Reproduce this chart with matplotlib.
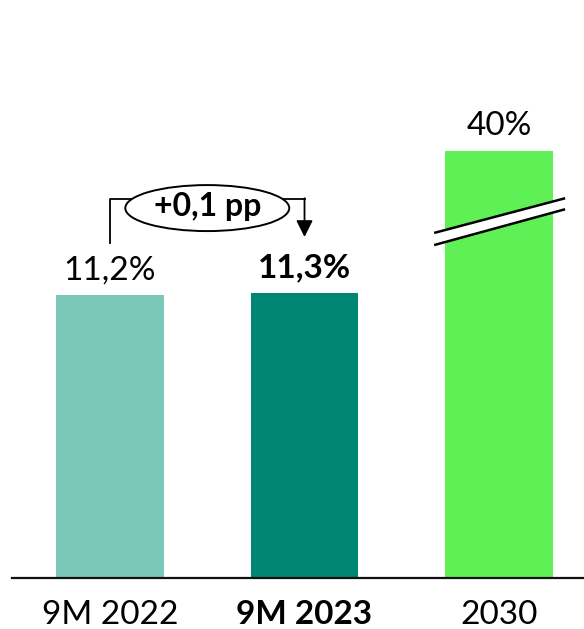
import numpy as np
import matplotlib
matplotlib.use("Agg")
import matplotlib.pyplot as plt
from matplotlib.patches import Ellipse, Polygon
from matplotlib.transforms import blended_transform_factory

categories = ["9M 2022", "9M 2023", "2030"]
values = [11.2, 11.3, 40.0]
value_labels = ["11,2%", "11,3%", "40%"]
bold_flags = [False, True, False]
colors = ["#7BC8B8", "#008673", "#5FF055"]
delta_label = "+0,1 pp"

# broken value axis: linear up to BREAK, strongly compressed above it
BREAK = 14.0
SQUEEZE = 0.112


def forward(v):
    v = np.asarray(v, dtype=float)
    return np.where(v <= BREAK, v, BREAK + (v - BREAK) * SQUEEZE)


def inverse(u):
    u = np.asarray(u, dtype=float)
    return np.where(u <= BREAK, u, BREAK + (u - BREAK) / SQUEEZE)


plt.rcParams["font.family"] = ["Lato", "DejaVu Sans"]

fig = plt.figure(figsize=(5.84, 6.29), dpi=100)
ax = fig.add_axes([12 / 584, 51 / 629, 572 / 584, 578 / 629])
ax.set_yscale("function", functions=(forward, inverse))

x = np.arange(len(categories))
ax.bar(x, values, width=0.555, color=colors, zorder=2)

ax.set_xlim(-0.504, 2.437)
ax.set_ylim(0, float(inverse(22.89)))

for xi, v, lab, b in zip(x, values, value_labels, bold_flags):
    ax.annotate(lab, (xi, v), xytext=(0, 18), textcoords="offset points",
                ha="center", va="center", fontsize=24,
                fontweight="bold" if b else "normal", color="black")

ax.set_xticks(x)
ax.set_xticklabels(categories, fontsize=24)
for lbl, b in zip(ax.get_xticklabels(), bold_flags):
    if b:
        lbl.set_fontweight("bold")
ax.tick_params(axis="x", length=0, pad=16)
ax.set_yticks([])
for side in ["top", "left", "right"]:
    ax.spines[side].set_visible(False)
ax.spines["bottom"].set_linewidth(1.6)
ax.spines["bottom"].set_color("#111111")

# axis-break marks across the 2030 bar
tr = ax.transAxes
p1, p2 = (0.738, 0.597), (0.967, 0.657)
q1, q2 = (0.738, 0.576), (0.967, 0.638)
ax.add_patch(Polygon([p1, p2, q2, q1], closed=True, facecolor="white",
                     edgecolor="none", transform=tr, zorder=3))
ax.plot([p1[0], p2[0]], [p1[1], p2[1]], color="black", lw=1.8,
        transform=tr, zorder=4, solid_capstyle="butt")
ax.plot([q1[0], q2[0]], [q1[1], q2[1]], color="black", lw=1.8,
        transform=tr, zorder=4, solid_capstyle="butt")

# change bracket between the two 9M bars
bt = blended_transform_factory(ax.transData, ax.transAxes)
y_conn = 0.656
mid = 0.5 * (x[0] + x[1])
ax.plot([x[0], x[0], mid], [0.580, y_conn, y_conn],
        color="black", lw=1.3, transform=bt, zorder=5)
ax.plot([mid, x[1]], [y_conn, y_conn],
        color="black", lw=1.3, transform=bt, zorder=5)
ax.annotate("", xy=(x[1], 0.590), xytext=(x[1], y_conn + 0.001),
            xycoords=bt, textcoords=bt,
            arrowprops=dict(arrowstyle="-|>,head_length=1.0,head_width=0.5",
                            color="black", lw=1.3, shrinkA=0, shrinkB=0),
            zorder=5)
ax.add_patch(Ellipse((mid, 0.640), 0.843, 0.0796,
                     transform=bt, facecolor="white", edgecolor="black",
                     lw=1.4, zorder=6))
ax.text(mid, 0.642, delta_label, transform=bt,
        ha="center", va="center", fontsize=23, fontweight="bold", zorder=7)

fig.savefig("out.png", dpi=100)
